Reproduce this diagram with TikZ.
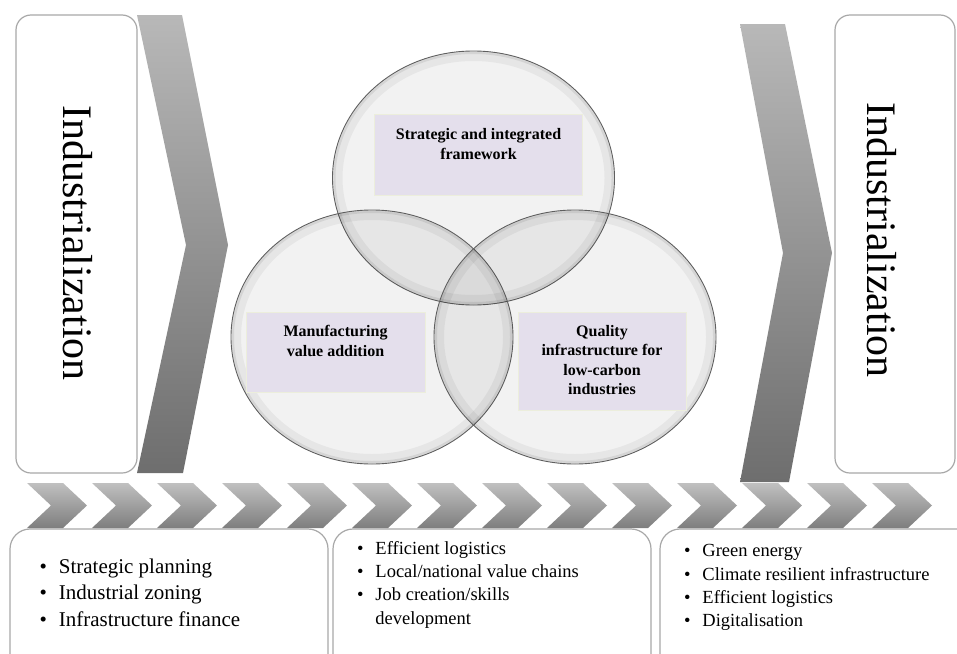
\documentclass[tikz,border=0pt]{standalone}
\usepackage{fontspec}
\setmainfont{Liberation Serif}
\usetikzlibrary{positioning}

\definecolor{boxline}{RGB}{168,168,168}
\definecolor{ringline}{RGB}{95,95,95}
\definecolor{lavender}{RGB}{228,223,236}
\definecolor{tagline}{RGB}{236,238,220}
\definecolor{chevtop}{RGB}{192,192,192}
\definecolor{chevbot}{RGB}{126,126,126}
\definecolor{bigtop}{RGB}{184,184,184}
\definecolor{bigbot}{RGB}{110,110,110}

\tikzset{
  sidebox/.style={draw=boxline, line width=1.2pt, rounded corners=15pt, fill=white},
  listbox/.style={draw=boxline, line width=1.2pt, rounded corners=20pt, fill=white},
  sidetext/.style={rotate=-90, font=\fontsize{42}{50}\selectfont},
  bigchev/.style={top color=bigtop, bottom color=bigbot},
  smallchev/.style={top color=chevtop, bottom color=chevbot},
  tagbox/.style={fill=lavender, draw=tagline, line width=0.8pt},
  tagtext/.style={align=center, font=\bfseries\fontsize{16}{19.5}\selectfont},
  listtext/.style={anchor=west, align=left}
}

\begin{document}
\begin{tikzpicture}[x=1pt, y=-1pt, every node/.style={inner sep=0pt}]
\useasboundingbox (0,0) rectangle (957,653);
\clip (0,0) rectangle (957,653);

% side boxes with vertical titles
\draw[sidebox] (16,15) rectangle (137,473);
\draw[sidebox] (835,15) rectangle (955,473);
\node[sidetext] (indleft) at (78,243) {Industrialization};
\node[sidetext] (indright) at (882,240) {Industrialization};

% large chevrons
\shade[bigchev] (137,15) -- (182,15) -- (228,245) -- (183,473) -- (137,473) -- (186,245) -- cycle;
\shade[bigchev] (740,24) -- (785,24) -- (832,253) -- (789,482) -- (740,482) -- (783,253) -- cycle;

% bottom boxes
\draw[listbox] (10,529) rectangle (328,680);
\draw[listbox] (333,529) rectangle (651,680);
\draw[listbox] (660,529) rectangle (990,680);

% row of small chevrons
\foreach \i in {0,...,13} {
  \pgfmathsetmacro\xs{27+65*\i}
  \shade[smallchev] (\xs,483) -- ++(36,0) -- ++(24,22.5) -- ++(-24,22.5) -- ++(-36,0) -- ++(24,-22.5) -- cycle;
}

% venn circles
\foreach \cx/\cy in {473.5/178, 372/337, 575/337} {
  \fill[black, fill opacity=0.05] (\cx,\cy) ellipse [x radius=141pt, y radius=127pt];
  \draw[black, draw opacity=0.05, line width=9pt] (\cx,\cy) ellipse [x radius=135.5pt, y radius=121.5pt];
  \draw[black, draw opacity=0.08, line width=3pt] (\cx,\cy) ellipse [x radius=139.5pt, y radius=125.5pt];
  \draw[ringline, line width=0.9pt] (\cx,\cy) ellipse [x radius=141pt, y radius=127pt];
}

% labels in the circles
\node[tagbox, minimum width=208pt, minimum height=81pt] (frame) at (478.5,154.5) {};
\node[tagtext, below=15pt of frame.north] (frametxt) {Strategic and integrated\\framework};
\node[tagbox, minimum width=179pt, minimum height=80pt] (manuf) at (335.5,352) {};
\node[tagtext, below=13.5pt of manuf.north] (manuftxt) {Manufacturing\\value addition};
\node[tagbox, minimum width=168pt, minimum height=98pt] (quality) at (602,361) {};
\node[tagtext, below=13.5pt of quality.north] (qualitytxt) {Quality\\infrastructure for\\low-carbon\\industries};

% bullet lists
\node[listtext, font=\fontsize{21}{26.5}\selectfont] (planlist) at (39.3,594.5) {%
  \begin{tabular}{@{}l@{\hspace{12pt}}l@{}}
  \textbullet & Strategic planning\\
  \textbullet & Industrial zoning\\
  \textbullet & Infrastructure finance
  \end{tabular}};
\node[listtext, font=\fontsize{18.5}{23.3}\selectfont] (chainlist) at (356.8,584.5) {%
  \begin{tabular}{@{}l@{\hspace{12pt}}l@{}}
  \textbullet & Efficient logistics\\
  \textbullet & Local/national value chains\\
  \textbullet & Job creation/skills\\
              & development
  \end{tabular}};
\node[listtext, font=\fontsize{18.5}{23.3}\selectfont] (greenlist) at (683.8,587.2) {%
  \begin{tabular}{@{}l@{\hspace{12pt}}l@{}}
  \textbullet & Green energy\\
  \textbullet & Climate resilient infrastructure\\
  \textbullet & Efficient logistics\\
  \textbullet & Digitalisation
  \end{tabular}};
\end{tikzpicture}
\end{document}
